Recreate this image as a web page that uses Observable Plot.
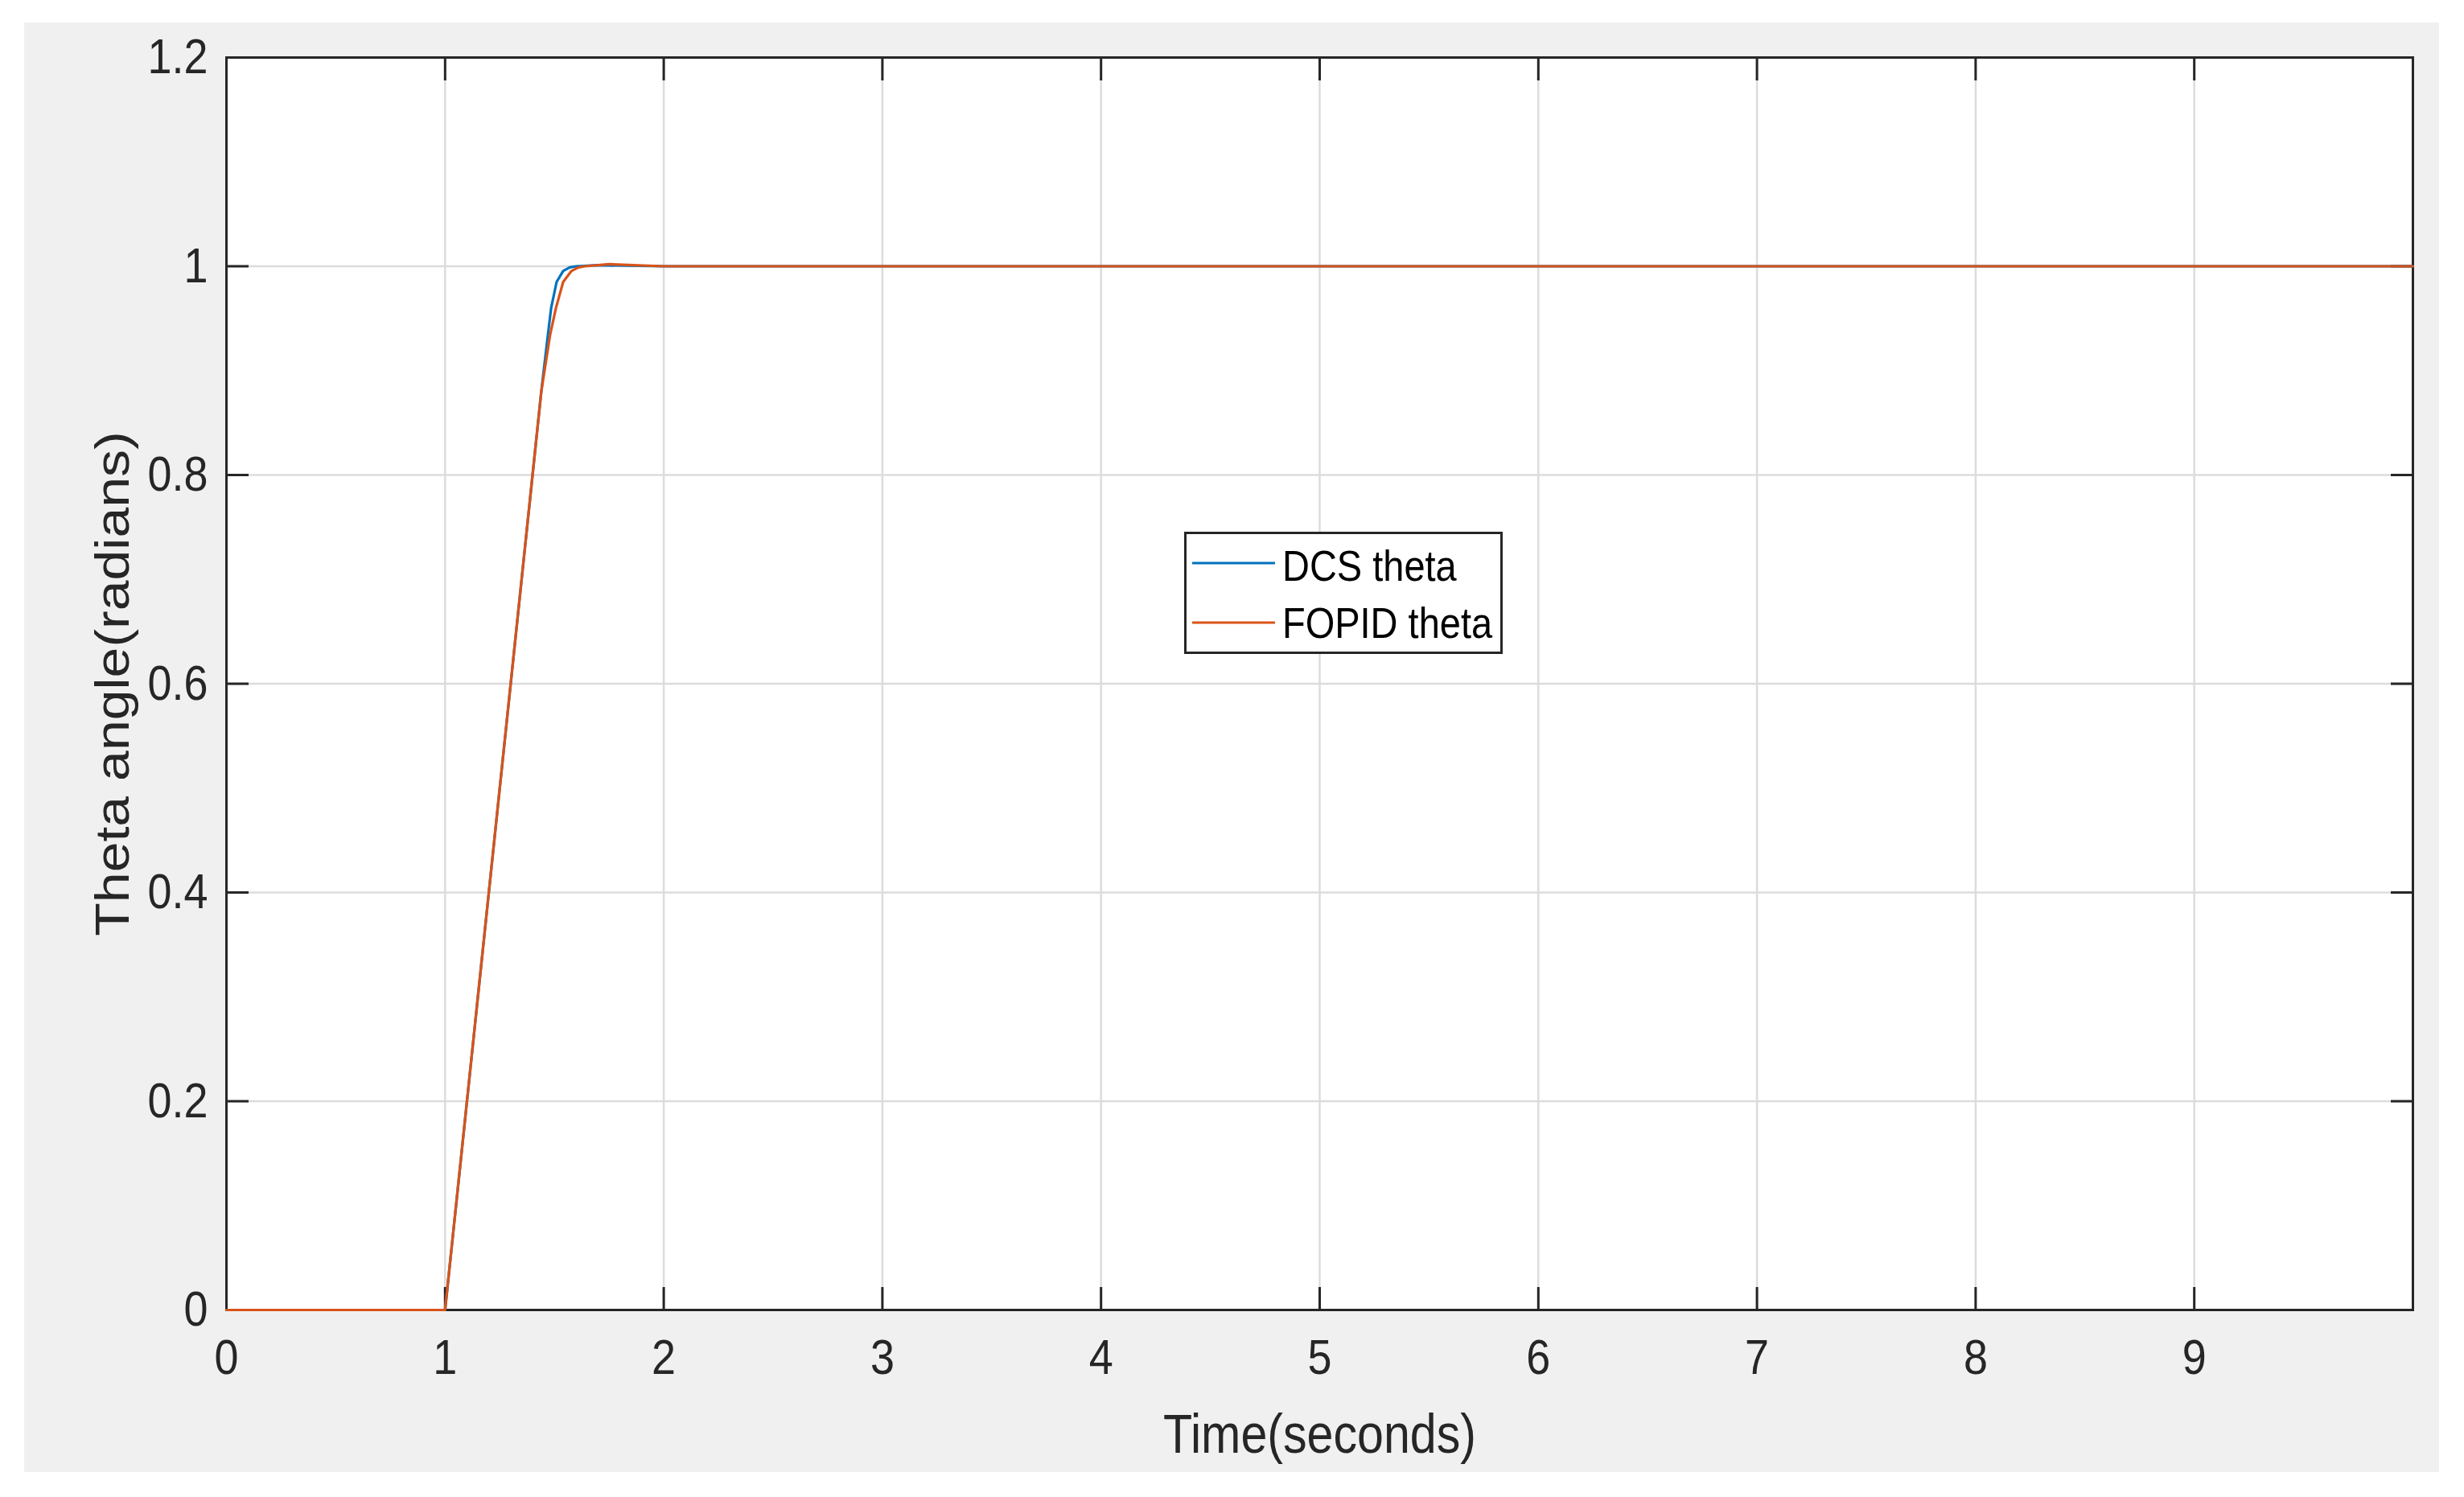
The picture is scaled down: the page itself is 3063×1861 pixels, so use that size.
<!DOCTYPE html>
<html><head><meta charset="utf-8">
<script src="https://cdn.jsdelivr.net/npm/d3@7"></script>
<script src="https://cdn.jsdelivr.net/npm/@observablehq/plot@0.6"></script>
<style>
body{margin:0;background:#fff;width:3063px;height:1861px;position:relative;overflow:hidden}
#panel{position:absolute;left:30px;top:28px}
#legend{position:absolute;left:1472px;top:661px}
</style></head><body>
<div id="panel"></div>
<div id="legend"></div>
<script>
// Series
const seriesNames = ["DCS theta", "FOPID theta"];
const seriesColors = ["#0072BD", "#D95319"];
const dcsTime  = [0, 1, 1.40, 1.44, 1.47, 1.485, 1.51, 1.54, 1.57, 1.60, 1.70, 2, 10];
const dcsTheta = [0, 0, 0.80, 0.88, 0.934, 0.96, 0.985, 0.9955, 0.999, 1.0, 1.001, 1.0, 1.0];
const fopidTime  = [0, 1, 1.40, 1.44, 1.48, 1.507, 1.54, 1.578, 1.61, 1.64, 1.75, 2, 10];
const fopidTheta = [0, 0, 0.80, 0.88, 0.934, 0.96, 0.985, 0.9955, 0.999, 1.0, 1.002, 1.0, 1.0];
// Axes
const xTicks = [0, 1, 2, 3, 4, 5, 6, 7, 8, 9];
const yTicks = [0, 0.2, 0.4, 0.6, 0.8, 1, 1.2];
const xDomain = [0, 10];
const yDomain = [0, 1.2];
const xLabel = "Time(seconds)";
const yLabel = "Theta angle(radians)";

const rows = [];
dcsTime.forEach((t, i) => rows.push({series: seriesNames[0], t, theta: dcsTheta[i]}));
fopidTime.forEach((t, i) => rows.push({series: seriesNames[1], t, theta: fopidTheta[i]}));

const ink = "#262626";
const tickOpts = {tickFormat: () => "", label: null, stroke: ink, strokeWidth: 3};
const chart = Plot.plot({
  width: 3002, height: 1802,
  marginLeft: 251, marginRight: 33, marginTop: 43, marginBottom: 202,
  style: {background: "#f0f0f0", fontFamily: "'Liberation Sans', Arial, sans-serif", color: ink, overflow: "visible"},
  x: {domain: xDomain},
  y: {domain: yDomain},
  color: {domain: seriesNames, range: seriesColors},
  marks: [
    Plot.frame({fill: "white", stroke: null}),
    Plot.gridX(xTicks, {stroke: "#dcdcdc", strokeOpacity: 1, strokeWidth: 2.5}),
    Plot.gridY(yTicks, {stroke: "#dcdcdc", strokeOpacity: 1, strokeWidth: 2.5}),
    Plot.axisX(xTicks, {anchor: "bottom", tickSize: 0, tickPadding: 35, fontSize: 62, label: null, fill: ink, tickFormat: d => String(d)}),
    Plot.axisY(yTicks, {anchor: "left", tickSize: 0, tickPadding: 23, fontSize: 62, label: null, fill: ink, tickFormat: d => String(d)}),
    Plot.axisX(xTicks, {anchor: "bottom", tickSize: -28, ...tickOpts}),
    Plot.axisX(xTicks, {anchor: "top", tickSize: -28, ...tickOpts}),
    Plot.axisY(yTicks, {anchor: "left", tickSize: -28, ...tickOpts}),
    Plot.axisY(yTicks, {anchor: "right", tickSize: -28, ...tickOpts}),
    Plot.frame({stroke: ink, strokeWidth: 3}),
    Plot.line(rows, {x: "t", y: "theta", stroke: "series", z: "series", strokeWidth: 3.2}),
    Plot.text([xLabel], {text: d => d, frameAnchor: "bottom", lineAnchor: "middle", dy: 156, fontSize: 68, fill: ink}),
    Plot.text([yLabel], {text: d => d, frameAnchor: "left", textAnchor: "middle", dx: -140, rotate: -90, fontSize: 68, fill: ink})
  ]
});
document.getElementById("panel").appendChild(chart);

// horizontal squeeze of glyphs as in the reference
const squeeze = 0.87;
chart.querySelectorAll("text").forEach(t => {
  const prev = t.getAttribute("transform") || "";
  const xa = t.getAttribute("x");
  const x = xa && /^-?[\d.]+$/.test(xa.trim()) ? +xa : 0;
  let add;
  if (/rotate/.test(prev)) add = ` scale(1,${squeeze})`;
  else add = x ? ` translate(${x},0) scale(${squeeze},1) translate(${-x},0)` : ` scale(${squeeze},1)`;
  t.setAttribute("transform", prev + add);
});

// Legend
const lg = d3.select("#legend").append("svg").attr("width", 396).attr("height", 152)
  .style("font-family", "'Liberation Sans', Arial, sans-serif");
lg.append("rect").attr("x", 1.5).attr("y", 1.5).attr("width", 393).attr("height", 149)
  .attr("fill", "white").attr("stroke", ink).attr("stroke-width", 3);
const lineYs = [39, 113], textYs = [61, 132];
seriesNames.forEach((name, i) => {
  lg.append("line").attr("x1", 10).attr("x2", 113).attr("y1", lineYs[i]).attr("y2", lineYs[i])
    .attr("stroke", seriesColors[i]).attr("stroke-width", 3);
  lg.append("text").attr("transform", `translate(122,${textYs[i]}) scale(${squeeze},1)`)
    .attr("font-size", 54).attr("fill", "#000").text(name);
});
</script>
</body></html>
